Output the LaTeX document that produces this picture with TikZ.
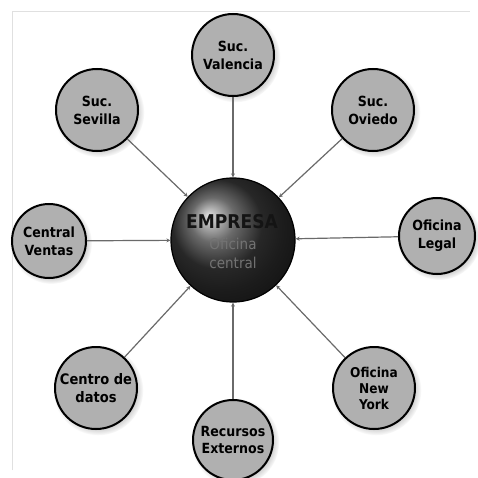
\documentclass[tikz,border=0pt]{standalone}
\usepackage{fontspec}
\setmainfont{DejaVu Sans}
\newfontfamily\condfont{DejaVu Sans Condensed}
\usetikzlibrary{shadows,arrows.meta}
\definecolor{satfill}{HTML}{B0B0B0}
\definecolor{edgecol}{HTML}{6A6A6A}
\tikzset{
  sat/.style={circle, draw=black, line width=2pt, fill=satfill, minimum size=#1,
    inner sep=0pt, align=center, font=\condfont\bfseries\fontsize{14}{18}\selectfont,
    circular drop shadow={shadow xshift=2pt, shadow yshift=-2pt, fill=black!35, opacity=0.5}},
  sat/.default=82pt,
  hub/.style={circle, draw=black, line width=1.2pt, shading=ball, ball color=black!78,
    minimum size=124pt, inner sep=0pt, align=center},
  edge/.style={draw=edgecol, line width=1.2pt, -{Stealth[length=4pt,width=4pt]}},
  frame/.style={draw=black!12, line width=1pt}
}
\begin{document}
\begin{tikzpicture}[x=1pt,y=-1pt]
\useasboundingbox (0,0) rectangle (477,478);
\fill[white] (0,0) rectangle (477,478);
\draw[frame] (12,470) -- (12,12) -- (470,12);
\node[hub] (c) at (233,240) {};
\node[align=center, font=\condfont\bfseries\fontsize{19}{21}\selectfont, text=black!92] (ct) at (232,222) {EMPRESA};
\node[align=center, font=\condfont\fontsize{15}{19}\selectfont, text=black!55] (ct2) at (233,253) {Oficina\\central};
\node[sat] (val) at (233,55) {Suc.\\Valencia};
\node[sat] (sev) at (97,110) {Suc.\\Sevilla};
\node[sat] (ovi) at (373,110) {Suc.\\Oviedo};
\node[sat=74pt] (cv) at (49,241) {Central\\Ventas};
\node[sat=76pt] (ol) at (437,236) {Oficina\\Legal};
\node[sat, font=\condfont\bfseries\fontsize{14.5}{18}\selectfont] (cd) at (96,388) {Centro de\\datos};
\node[sat=80pt, font=\condfont\bfseries\fontsize{14}{17}\selectfont] (re) at (233,440) {Recursos\\Externos};
\node[sat, font=\condfont\bfseries\fontsize{13.5}{16}\selectfont] (ny) at (374,388) {Oficina\\New\\York};
\foreach \n in {val,sev,ovi,cv,ol,cd,re,ny}
  \draw[edge] (\n) -- (c);
\end{tikzpicture}
\end{document}
